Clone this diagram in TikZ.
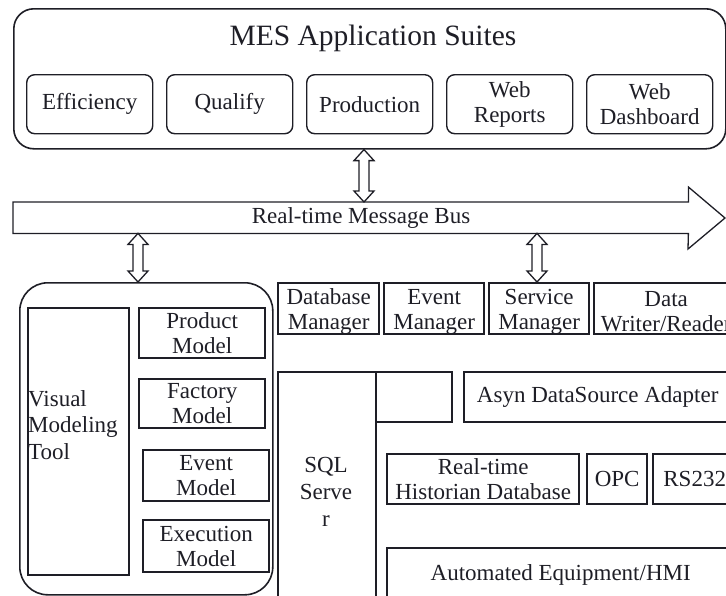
\documentclass[tikz,border=0pt]{standalone}
\usepackage{fontspec}
\setmainfont{Liberation Serif}
\usetikzlibrary{calc}
\definecolor{ink}{HTML}{1E1E26}

% hollow vertical double arrow between two points (same x as the first)
\newcommand\vdarrow[2]{%
  \draw[arr] let \p1=#1, \p2=#2 in
    (\x1,\y1) -- (\x1+10pt,\y1-11pt) -- (\x1+5pt,\y1-11pt) -- (\x1+5pt,\y2+11pt)
    -- (\x1+10pt,\y2+11pt) -- (\x1,\y2) -- (\x1-10pt,\y2+11pt) -- (\x1-5pt,\y2+11pt)
    -- (\x1-5pt,\y1-11pt) -- (\x1-10pt,\y1-11pt) -- cycle;}

\begin{document}
\begin{tikzpicture}[x=1pt,y=-1pt,
  txt/.style={font=\fontsize{23}{25}\selectfont, align=center, text=ink},
  rbox/.style={draw=ink, line width=1.4pt, rounded corners=8pt, inner sep=0pt, anchor=north west, txt},
  sbox/.style={draw=ink, line width=2.4pt, inner sep=0pt, anchor=north west, txt},
  arr/.style={draw=ink, line width=1.3pt, fill=white, line join=miter}]

\useasboundingbox (0,0) rectangle (726,595);
\clip (0,0) rectangle (726,595);

% application suites
\node[rbox, rounded corners=20pt, line width=1.6pt, minimum width=712pt, minimum height=140pt] (mes) at (13,8) {};
\node[txt, font=\fontsize{29.5}{31}\selectfont] (mestitle) at (373,38) {MES Application Suites};
\node[rbox, minimum width=126pt, minimum height=59pt] (eff)  at (26,74)  {Efficiency};
\node[rbox, minimum width=126pt, minimum height=59pt] (qual) at (166,74) {Qualify};
\node[rbox, minimum width=126pt, minimum height=59pt] (prod) at (306,74) {Production};
\node[rbox, minimum width=126pt, minimum height=59pt] (webr) at (446,74) {Web\\Reports};
\node[rbox, minimum width=126pt, minimum height=59pt] (webd) at (586,74) {Web\\Dashboard};

% message bus
\node[inner sep=0pt, minimum width=675pt, minimum height=31pt, anchor=north west] (bus) at (13,202) {};
\draw[arr, fill=none] (bus.north west) -- (bus.north east) -- ++(0,15pt) -- (725,218)
  -- ++(-37pt,-31pt) -- (bus.south east) -- (bus.south west) -- cycle;
\node[txt] (buslabel) at (361,218) {Real-time Message Bus};

% modeling tool
\node[rbox, rounded corners=28pt, line width=1.6pt, minimum width=253pt, minimum height=312pt] (mdl) at (19,282) {};
\node[sbox, minimum width=101pt, minimum height=267pt] (vmt) at (27,307) {};
\node[txt, align=left, anchor=west, inner sep=0pt, font=\fontsize{23}{26.5}\selectfont] (vmtlabel) at (28,425) {Visual\\Modeling\\Tool};
\node[sbox, minimum width=126pt, minimum height=50pt] (pm) at (138,307) {Product\\Model};
\node[sbox, minimum width=126pt, minimum height=49pt] (fm) at (138,378) {Factory\\Model};
\node[sbox, minimum width=126pt, minimum height=51pt] (em) at (142,449) {Event\\Model};
\node[sbox, minimum width=126pt, minimum height=52pt] (xm) at (142,519) {Execution\\Model};

% managers
\node[sbox, minimum width=101pt, minimum height=51pt] (dbm) at (277,282) {};
\node[sbox, minimum width=100pt, minimum height=51pt] (evm) at (383,282) {};
\node[sbox, minimum width=100pt, minimum height=51pt] (svm) at (488,282) {};
\node[sbox, minimum width=144pt, minimum height=51pt] (dwr) at (593,282) {};
\node[txt] (dbmlabel) at ([yshift=-3pt]dbm.center) {Database\\Manager};
\node[txt] (evmlabel) at ([yshift=-3pt]evm.center) {Event\\Manager};
\node[txt] (svmlabel) at ([yshift=-3pt]svm.center) {Service\\Manager};
\node[txt] (dwrlabel) at ([yshift=-3pt]dwr.center) {Data\\Writer/Reader};

% data layer
\node[sbox, minimum width=98pt, minimum height=240pt] (sql) at (277,371) {};
\node[txt, font=\fontsize{23}{27}\selectfont] (sqllabel) at (326,492) {SQL\\Serve\\r};
\node[sbox, minimum width=76pt, minimum height=50pt] (blank) at (375,371) {};
\node[sbox, minimum width=267pt, minimum height=50pt] (asyn) at (463,371) {Asyn DataSource Adapter};
\node[sbox, minimum width=192pt, minimum height=50pt] (hist) at (386,453) {Real-time\\Historian Database};
\node[sbox, minimum width=60pt, minimum height=50pt] (opc) at (586,453) {OPC};
\node[sbox, minimum width=83pt, minimum height=50pt] (rs) at (652,453) {RS232};
\node[sbox, minimum width=347pt, minimum height=54pt] (auto) at (386,547) {Automated Equipment/HMI};

% links to the bus
\coordinate (ax1) at (364,0);
\coordinate (ax2) at (138,0);
\coordinate (ax3) at (537,0);
\vdarrow{(mes.south -| ax1)}{(bus.north -| ax1)}
\vdarrow{(bus.south -| ax2)}{(mdl.north -| ax2)}
\vdarrow{(bus.south -| ax3)}{(svm.north -| ax3)}
\end{tikzpicture}
\end{document}
